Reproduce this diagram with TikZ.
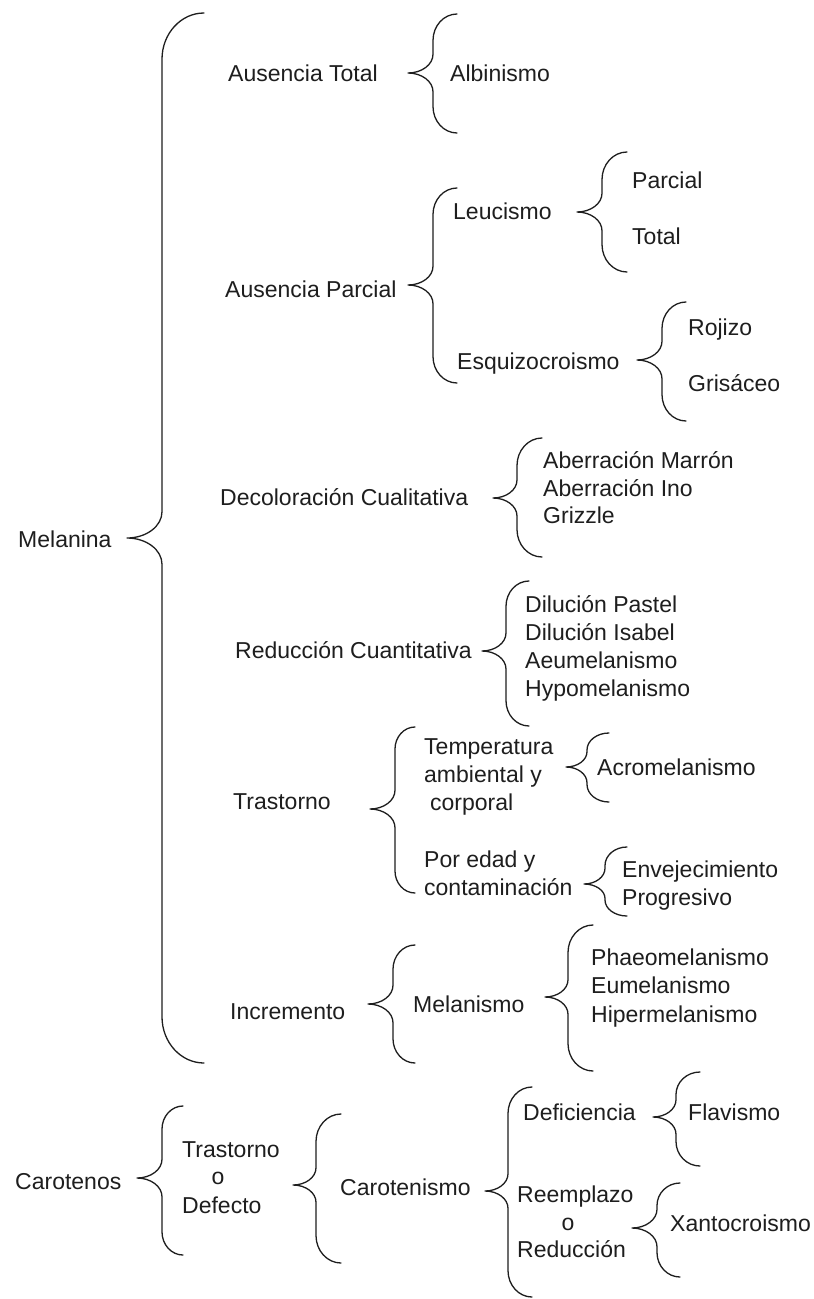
\documentclass[tikz,border=0pt]{standalone}
\usepackage{fontspec}
\setmainfont{Liberation Sans}
\definecolor{ink}{HTML}{1E1E1E}
\newcommand\cbrace[6]{%
  \pgfmathsetmacro\rxa{#4-#3}%
  \pgfmathsetmacro\rxb{#3-#1}%
  \pgfmathsetmacro\hu{#2-#5}%
  \pgfmathsetmacro\hl{#6-#2}%
  \pgfmathsetmacro\rtu{min(\rxa*1.1,0.5*\hu)}%
  \pgfmathsetmacro\rmu{min(\rxb*0.75,0.45*\hu)}%
  \pgfmathsetmacro\rtl{min(\rxa*1.1,0.5*\hl)}%
  \pgfmathsetmacro\rml{min(\rxb*0.75,0.45*\hl)}%
  \draw[bracestyle] (#4,#5) .. controls ({#4-0.552*\rxa},#5) and (#3,{#5+0.448*\rtu}) .. (#3,{#5+\rtu})
    -- (#3,{#2-\rmu}) .. controls (#3,{#2-0.448*\rmu}) and ({#1+0.552*\rxb},#2) .. (#1,#2)
    .. controls ({#1+0.552*\rxb},#2) and (#3,{#2+0.448*\rml}) .. (#3,{#2+\rml})
    -- (#3,{#6-\rtl}) .. controls (#3,{#6-0.448*\rtl}) and ({#4-0.552*\rxa},#6) .. (#4,#6);
}
\begin{document}
\begin{tikzpicture}[x=1pt,y=-1pt,
  txt/.style={anchor=base west,inner sep=0pt,text=ink,font=\fontsize{23}{28}\selectfont},
  ctxt/.style={anchor=base,inner sep=0pt,text=ink,font=\fontsize{23}{28}\selectfont},
  bracestyle/.style={draw=ink,line width=1.3pt,line cap=round,line join=round}]
\useasboundingbox[fill=white] (0,0) rectangle (814,1299);

% Melanina branch
\node[txt] (mel) at (18,547) {Melanina};
\node[txt] (at) at (228,81) {Ausencia Total};
\node[txt] (ap) at (225,297) {Ausencia Parcial};
\node[txt] (alb) at (450,81) {Albinismo};
\node[txt] (leu) at (453,219) {Leucismo};
\node[txt] (parc) at (632,188) {Parcial};
\node[txt] (tot) at (632,244) {Total};
\node[txt] (esq) at (457,369) {Esquizocroismo};
\node[txt] (roj) at (688,335) {Rojizo};
\node[txt] (gris) at (688,391) {Grisáceo};
\node[txt] (dec) at (220,505) {Decoloración Cualitativa};
\node[txt] (abm) at (543,468) {Aberración Marrón};
\node[txt] (abi) at (543,496) {Aberración Ino};
\node[txt] (griz) at (543,523) {Grizzle};
\node[txt] (red) at (235,658) {Reducción Cuantitativa};
\node[txt] (dp) at (525,612) {Dilución Pastel};
\node[txt] (di) at (525,640) {Dilución Isabel};
\node[txt] (aeu) at (525,668) {Aeumelanismo};
\node[txt] (hyp) at (525,696) {Hypomelanismo};
\node[txt] (tras) at (233,809) {Trastorno};
\node[txt] (temp1) at (424,754) {Temperatura};
\node[txt] (temp2) at (424,782) {ambiental y};
\node[txt] (temp3) at (430,810) {corporal};
\node[txt] (acro) at (597,775) {Acromelanismo};
\node[txt] (edad1) at (424,867) {Por edad y};
\node[txt] (edad2) at (424,895) {contaminación};
\node[txt] (env1) at (622,877) {Envejecimiento};
\node[txt] (env2) at (622,905) {Progresivo};
\node[txt] (inc) at (230,1019) {Incremento};
\node[txt] (mlsm) at (413,1012) {Melanismo};
\node[txt] (pha) at (591,965) {Phaeomelanismo};
\node[txt] (eum) at (591,993) {Eumelanismo};
\node[txt] (hip) at (591,1022) {Hipermelanismo};

% Carotenos branch
\node[txt] (car) at (15,1189) {Carotenos};
\node[txt] (td1) at (182,1157) {Trastorno};
\node[ctxt] (td2) at (218,1184) {o};
\node[txt] (td3) at (182,1213) {Defecto};
\node[txt] (cart) at (340,1195) {Carotenismo};
\node[txt] (def) at (523,1120) {Deficiencia};
\node[txt] (flav) at (688,1120) {Flavismo};
\node[txt] (rr1) at (517,1202) {Reemplazo};
\node[ctxt] (rr2) at (568,1230) {o};
\node[txt] (rr3) at (517,1257) {Reducción};
\node[txt] (xan) at (670,1231) {Xantocroismo};

% braces: tip x, tip y, spine x, end x, top y, bottom y
\cbrace{127}{538}{162}{204}{13}{1063}
\cbrace{408}{73}{433}{457}{14}{133}
\cbrace{408}{285}{433}{457}{188}{383}
\cbrace{577}{212}{602}{627}{152}{272}
\cbrace{637}{360}{662}{686}{302}{421}
\cbrace{493}{498}{517}{542}{438}{557}
\cbrace{482}{651}{506}{529}{581}{726}
\cbrace{370}{809}{395}{415}{727}{893}
\cbrace{566}{767}{587}{609}{733}{802}
\cbrace{584}{884}{605}{627}{847}{916}
\cbrace{368}{1004}{393}{415}{945}{1063}
\cbrace{545}{997}{568}{593}{925}{1071}
\cbrace{137}{1178}{162}{183}{1106}{1255}
\cbrace{293}{1185}{316}{341}{1114}{1263}
\cbrace{485}{1191}{508}{532}{1087}{1297}
\cbrace{653}{1117}{676}{700}{1072}{1166}
\cbrace{632}{1228}{657}{680}{1183}{1277}
\end{tikzpicture}
\end{document}
